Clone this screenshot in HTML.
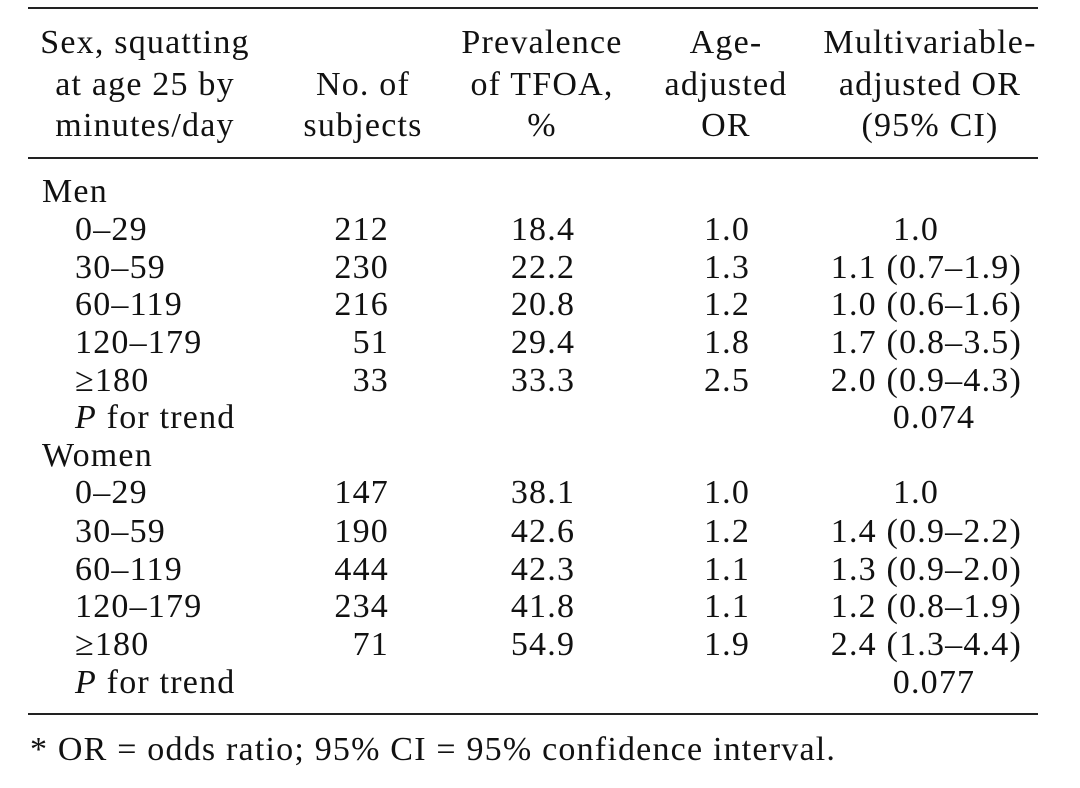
<!DOCTYPE html>
<html><head><meta charset="utf-8"><style>
body{margin:0;background:#fff;width:1080px;height:788px;position:relative;overflow:hidden;font-family:"Liberation Serif",serif;font-size:34px;letter-spacing:1.2px;color:#111}
.t{position:absolute;line-height:38px;height:38px;white-space:nowrap}
.c{text-align:center;width:300px}
.r{text-align:right;width:300px}
.l{position:absolute;left:28px;width:1010px;background:#222}
</style></head><body>
<div class="l" style="top:7px;height:2px"></div>
<div class="l" style="top:157px;height:2px"></div>
<div class="l" style="top:713px;height:2px"></div>
<script>
const B=document.body;
function t(x,y,s,cls){const d=document.createElement('div');d.className='t '+(cls||'');d.innerHTML=s;let l=x;if(cls=='c')l=x-150;if(cls=='r')l=x-300;d.style.left=l+'px';d.style.top=(y-17)+'px';B.appendChild(d);}
const H=[[145,['Sex, squatting','at age 25 by','minutes/day']],[363,['','No. of','subjects']],[542,['Prevalence','of TFOA,','%']],[726,['Age-','adjusted','OR']],[930,['Multivariable-','adjusted OR','(95% CI)']]];
const hy=[41,83,124];
H.forEach(([x,a])=>a.forEach((s,i)=>t(x,hy[i],s,'c')));
const rows=[
['Men',0],
['0–29','212','18.4','1.0','1.0'],
['30–59','230','22.2','1.3','1.1 (0.7–1.9)'],
['60–119','216','20.8','1.2','1.0 (0.6–1.6)'],
['120–179','51','29.4','1.8','1.7 (0.8–3.5)'],
['≥180','33','33.3','2.5','2.0 (0.9–4.3)'],
['<i>P</i> for trend','','','','0.074'],
['Women',0],
['0–29','147','38.1','1.0','1.0'],
['30–59','190','42.6','1.2','1.4 (0.9–2.2)'],
['60–119','444','42.3','1.1','1.3 (0.9–2.0)'],
['120–179','234','41.8','1.1','1.2 (0.8–1.9)'],
['≥180','71','54.9','1.9','2.4 (1.3–4.4)'],
['<i>P</i> for trend','','','','0.077']];
const ys=[190,228,266,303,341,379,416,454,491,530,568,605,643,681];
rows.forEach((r,i)=>{const y=ys[i];
 if(r[1]===0){t(42,y,r[0]);return;}
 t(75,y,r[0]);
 if(r[1])t(389,y,r[1],'r');
 if(r[2])t(543,y,r[2],'c');
 if(r[3])t(727,y,r[3],'c');
 if(r[4]=='1.0')t(916,y,r[4],'c');
 else if(r[4].length==5)t(934,y,r[4],'c');
 else t(1022,y,r[4],'r');
});
t(30,748,'* OR = odds ratio; 95% CI = 95% confidence interval.');
</script>
</body></html>
